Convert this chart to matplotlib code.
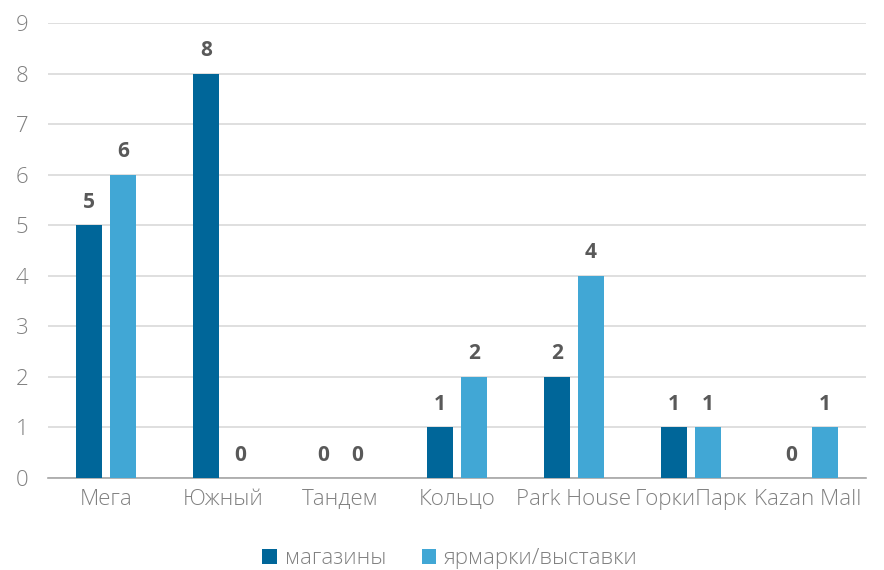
import matplotlib.pyplot as plt
import numpy as np

plt.rcParams['font.family'] = ['Open Sans', 'DejaVu Sans']

# Данные
categories = ['Мега', 'Южный', 'Тандем', 'Кольцо', 'Park House', 'ГоркиПарк', 'Kazan Mall']
shops = [5, 8, 0, 1, 2, 1, 0]
fairs = [6, 0, 0, 2, 4, 1, 1]
series_names = ['магазины', 'ярмарки/выставки']

dark = '#006699'
light = '#41a7d5'
text_grey = '#808080'

fig = plt.figure(figsize=(8.84, 5.7), dpi=100)
ax = fig.add_axes([0.054, 0.1614, 0.926, 0.7982])

x = np.arange(len(categories))
w = 0.225
off = 0.145
b1 = ax.bar(x - off, shops, w, color=dark, label=series_names[0], zorder=3)
b2 = ax.bar(x + off, fairs, w, color=light, label=series_names[1], zorder=3)

# Подписи значений
for bars, vals in [(b1, shops), (b2, fairs)]:
    for rect, v in zip(bars, vals):
        ax.annotate(str(v), (rect.get_x() + rect.get_width() / 2, v),
                    xytext=(0, 9), textcoords='offset points',
                    ha='center', va='bottom', fontsize=15, fontweight='bold',
                    color='#595959')

ax.set_xlim(-0.5, len(categories) - 0.5)
ax.set_ylim(0, 9)
ax.set_yticks(range(10))
ax.set_xticks(x)
ax.set_xticklabels(categories)
ax.tick_params(axis='both', length=0, labelsize=16, colors=text_grey)
ax.tick_params(axis='x', pad=8)
ax.tick_params(axis='y', pad=14)
for lbl in ax.get_xticklabels() + ax.get_yticklabels():
    lbl.set_fontweight('light')
ax.yaxis.grid(True, color='#d9d9d9', linewidth=1.2, zorder=0)
for s in ['top', 'right', 'left']:
    ax.spines[s].set_visible(False)
ax.spines['bottom'].set_color('#a6a6a6')
ax.spines['bottom'].set_linewidth(1.2)

leg = fig.legend(loc='center', bbox_to_anchor=(0.509, 0.02), ncol=2, frameon=False,
                 prop={'size': 16, 'weight': 'light'}, handlelength=0.65, handleheight=0.65,
                 handletextpad=0.35, columnspacing=1.6)
for t in leg.get_texts():
    t.set_color(text_grey)

plt.savefig('out.png', dpi=100)
